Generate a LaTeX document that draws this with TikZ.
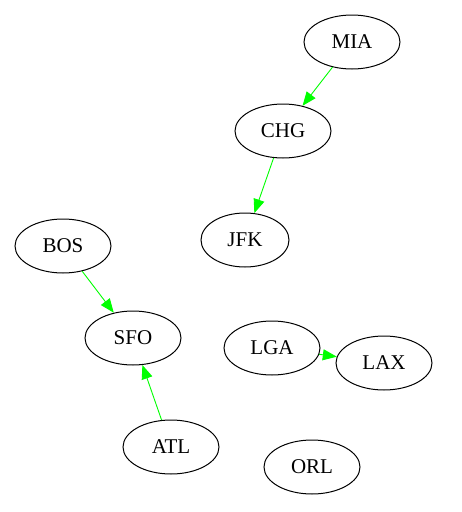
\documentclass[tikz,border=0pt]{standalone}
\usepackage{fontspec}
\setmainfont{Liberation Serif}
\usetikzlibrary{arrows.meta, shapes.geometric}
\definecolor{edgegreen}{HTML}{00FF00}

\begin{document}
\begin{tikzpicture}[
    x=1pt, y=-1pt,
    airport/.style={draw, line width=1pt, ellipse, minimum width=96pt, minimum height=54pt, inner sep=0pt, font=\fontsize{21}{24}\selectfont},
    flight/.style={-{Triangle[length=14pt, width=11pt]}, edgegreen, line width=0.9pt},
]
\useasboundingbox (0, 0) rectangle (462, 512);

% Airports
\node[airport] (mia) at (352, 42) {MIA};
\node[airport] (chg) at (283, 131) {CHG};
\node[airport, minimum width=88pt] (jfk) at (245, 240) {JFK};
\node[airport] (bos) at (63, 246) {BOS};
\node[airport] (sfo) at (133, 338) {SFO};
\node[airport] (lga) at (272, 348) {LGA};
\node[airport] (lax) at (384, 363) {LAX};
\node[airport] (atl) at (171, 447) {ATL};
\node[airport] (orl) at (312, 467) {ORL};

% Flights
\draw[flight] (mia) -- (chg);
\draw[flight] (chg) -- (jfk);
\draw[flight] (bos) -- (sfo);
\draw[flight] (atl) -- (sfo);
\draw[flight] (lga) -- (lax);

\end{tikzpicture}
\end{document}
